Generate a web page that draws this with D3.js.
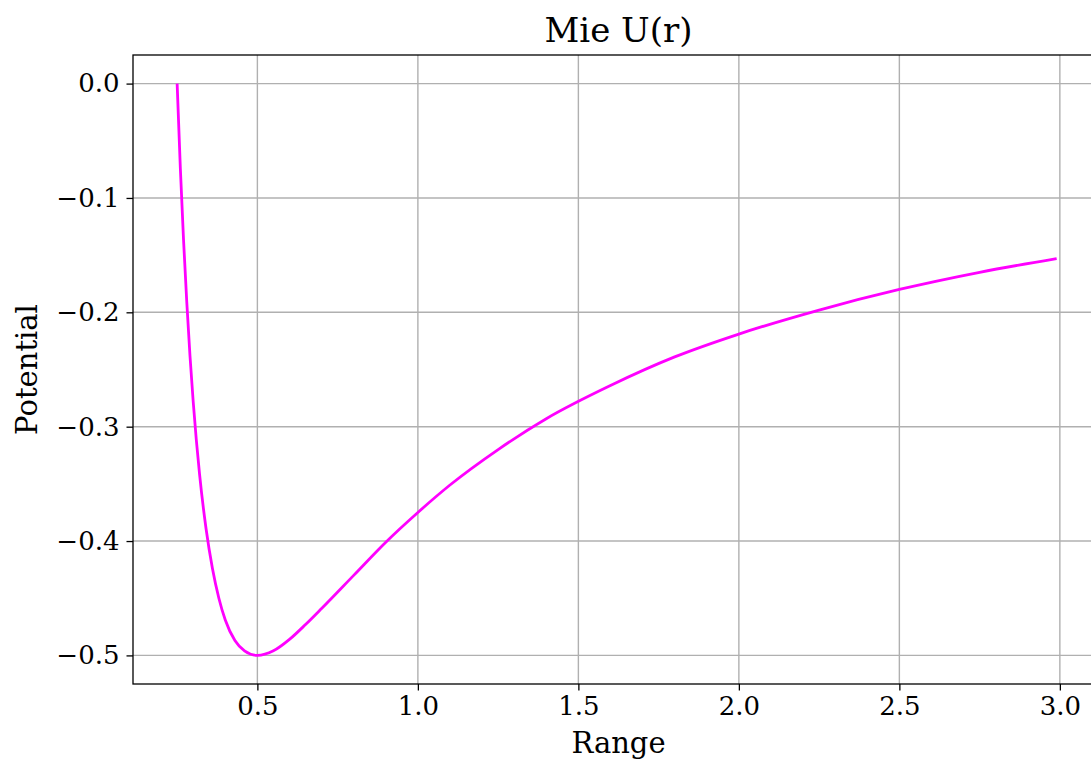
<!DOCTYPE html>
<html>
<head>
<meta charset="utf-8">
<script src="https://cdn.jsdelivr.net/npm/d3@7"></script>
<style>
  body { margin: 0; background: #fff; }
  svg text { font-family: "DejaVu Serif", serif; fill: #000; }
</style>
</head>
<body>
<div id="chart"></div>
<script>
// Mie potential, values
const rangeVals = [0.25, 0.26, 0.27, 0.28, 0.29, 0.30, 0.32, 0.34, 0.36, 0.38, 0.40, 0.43, 0.46, 0.50,
  0.55, 0.60, 0.65, 0.70, 0.80, 0.90, 1.00, 1.10, 1.25, 1.40, 1.60, 1.80, 2.00, 2.25, 2.50, 2.75, 2.99];
const potentialVals = [0.0, -0.074, -0.137, -0.191, -0.238, -0.278, -0.342, -0.389, -0.424, -0.450, -0.469, -0.487, -0.496, -0.500,
  -0.496, -0.486, -0.473, -0.459, -0.430, -0.401, -0.375, -0.351, -0.320, -0.293, -0.264, -0.239, -0.219, -0.198, -0.180, -0.165, -0.153];
const xTicks = [0.5, 1.0, 1.5, 2.0, 2.5, 3.0];
const yTicks = [0.0, -0.1, -0.2, -0.3, -0.4, -0.5];

const width = 1091, height = 764;
const margin = { top: 55, left: 133, right: -13, bottom: 80 };
const w = width - margin.left - margin.right;
const h = height - margin.top - margin.bottom;

const data = rangeVals.map((r, i) => ({ r: r, u: potentialVals[i] }));

const svg = d3.select("#chart")
  .append("svg")
  .attr("width", width)
  .attr("height", height);

const x = d3.scaleLinear().domain([0.1125, 3.1375]).range([0, w]);
const y = d3.scaleLinear().domain([-0.525, 0.025]).range([h, 0]);

const g = svg.append("g")
  .attr("transform", `translate(${margin.left},${margin.top})`);

// grid
g.selectAll(".vgrid")
  .data(xTicks)
  .join("line")
  .attr("x1", d => x(d)).attr("x2", d => x(d))
  .attr("y1", 0).attr("y2", h)
  .attr("stroke", "#b0b0b0").attr("stroke-width", 1.4);

g.selectAll(".hgrid")
  .data(yTicks)
  .join("line")
  .attr("class", "hgrid")
  .attr("x1", 0).attr("x2", w)
  .attr("y1", d => y(d)).attr("y2", d => y(d))
  .attr("stroke", "#b0b0b0").attr("stroke-width", 1.4);

// curve
const line = d3.line()
  .x(d => x(d.r))
  .y(d => y(d.u))
  .curve(d3.curveMonotoneX);

g.append("path")
  .datum(data)
  .attr("d", line)
  .attr("fill", "none")
  .attr("stroke", "#ff00ff")
  .attr("stroke-width", 2.8);

// axes
const fmt = d => d3.format(".1f")(d).replace("-", "\u2212");

const xAxis = g.append("g")
  .attr("transform", `translate(0,${h})`)
  .call(d3.axisBottom(x).tickValues(xTicks).tickFormat(fmt).tickSize(6.5).tickPadding(6));

const yAxis = g.append("g")
  .call(d3.axisLeft(y).tickValues(yTicks).tickFormat(fmt).tickSize(6.5).tickPadding(7));

[xAxis, yAxis].forEach(a => {
  a.selectAll("text").style("font-family", "DejaVu Serif").style("font-size", "26px").attr("fill", "#000");
  a.selectAll("line").attr("stroke", "#000").attr("stroke-width", 1.3);
  a.select(".domain").remove();
});

// spines (right one falls off the page)
g.append("rect")
  .attr("x", 0).attr("y", 0)
  .attr("width", w).attr("height", h)
  .attr("fill", "none")
  .attr("stroke", "#000")
  .attr("stroke-width", 1.3);

// labels
svg.append("text")
  .attr("x", margin.left + w / 2)
  .attr("y", 42)
  .attr("text-anchor", "middle")
  .style("font-size", "34px")
  .text("Mie U(r)");

svg.append("text")
  .attr("x", margin.left + w / 2)
  .attr("y", 753)
  .attr("text-anchor", "middle")
  .style("font-size", "29px")
  .text("Range");

svg.append("text")
  .attr("transform", "rotate(-90)")
  .attr("x", -(margin.top + h / 2))
  .attr("y", 37)
  .attr("text-anchor", "middle")
  .style("font-size", "29px")
  .text("Potential");
</script>
</body>
</html>
